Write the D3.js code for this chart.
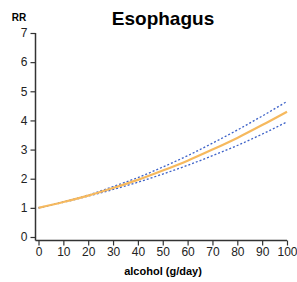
<!DOCTYPE html>
<html lang="en">
  <head>
    <meta charset="utf-8">
    <title>Esophagus</title>
    <script type="text/javascript" src="https://cdn.jsdelivr.net/npm/d3@7"></script>
    <style>
      body { margin: 0; background: #fff; }
      text { font-family: "Liberation Sans", Arial, sans-serif; }
    </style>
  </head>
  <body>
    <script type="text/javascript">
    // alcohol intake (g/day) and relative risk estimates
    var alcohol = [0, 10, 20, 30, 40, 50, 60, 70, 80, 90, 100];
    var rr      = [1.00, 1.20, 1.42, 1.68, 1.96, 2.28, 2.62, 3.00, 3.40, 3.84, 4.30];
    var rrUpper = [1.00, 1.21, 1.44, 1.73, 2.04, 2.40, 2.79, 3.22, 3.67, 4.15, 4.65];
    var rrLower = [1.00, 1.19, 1.40, 1.63, 1.88, 2.16, 2.46, 2.79, 3.14, 3.53, 3.95];
    var xTicks = [0, 10, 20, 30, 40, 50, 60, 70, 80, 90, 100];
    var yTicks = [0, 1, 2, 3, 4, 5, 6, 7];

    var w = 297;
    var h = 282;

    var svg = d3.select("body")
                .append("svg")
                .attr("width", w)
                .attr("height", h);

    var x = d3.scaleLinear().domain([0, 100]).range([38.5, 287]);
    var y = d3.scaleLinear().domain([0, 7]).range([237, 33]);

    // y axis
    var yAxis = svg.append("g")
       .attr("transform", "translate(35.5,0)")
       .call(d3.axisLeft(y).tickValues(yTicks).tickFormat(d3.format("d")).tickSize(5).tickPadding(3));
    yAxis.select(".domain").attr("d", "M0," + y(7) + "V240.5").attr("stroke", "#333").attr("stroke-width", 1.5);

    // x axis
    var xAxis = svg.append("g")
       .attr("transform", "translate(0,240.5)")
       .call(d3.axisBottom(x).tickValues(xTicks).tickFormat(d3.format("d")).tickSize(5).tickPadding(2));
    xAxis.select(".domain").attr("d", "M35.5,0H" + x(100)).attr("stroke", "#333").attr("stroke-width", 1.5);

    svg.selectAll(".tick line").attr("stroke", "#333").attr("stroke-width", 1.2);
    svg.selectAll(".tick text")
       .attr("fill", "#222")
       .style("font-size", "12px")
       .style("font-family", "Liberation Sans, Arial, sans-serif");

    var line = function(vals) {
      return d3.line()
        .curve(d3.curveMonotoneX)
        .x(function(d, i) { return x(alcohol[i]); })
        .y(function(d) { return y(d); })(vals);
    };

    // confidence bounds
    [rrUpper, rrLower].forEach(function(vals) {
      svg.append("path")
         .attr("d", line(vals))
         .attr("fill", "none")
         .attr("stroke", "#3d62c8")
         .attr("stroke-width", 1.3)
         .attr("stroke-dasharray", "2,2");
    });

    // point estimate
    svg.append("path")
       .attr("d", line(rr))
       .attr("fill", "none")
       .attr("stroke", "#f6b95e")
       .attr("stroke-width", 2.2);

    // titles
    svg.append("text")
       .attr("x", 163).attr("y", 25)
       .attr("text-anchor", "middle")
       .style("font-size", "19px").style("font-weight", "bold")
       .text("Esophagus");

    svg.append("text")
       .attr("x", 19).attr("y", 21)
       .attr("text-anchor", "middle")
       .style("font-size", "10px").style("font-weight", "bold")
       .text("RR");

    svg.append("text")
       .attr("x", 163).attr("y", 275)
       .attr("text-anchor", "middle")
       .style("font-size", "11px").style("font-weight", "bold")
       .text("alcohol (g/day)");
    </script>
  </body>
</html>
